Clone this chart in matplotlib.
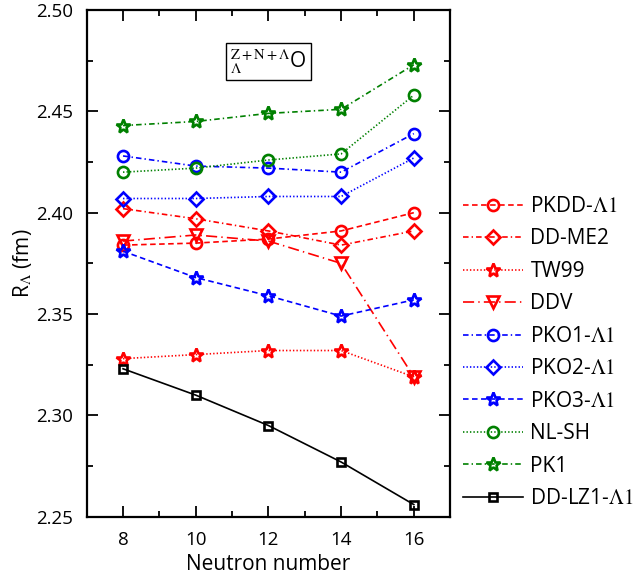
import numpy as np
import matplotlib
matplotlib.use('Agg')
import matplotlib.pyplot as plt
from matplotlib.ticker import MultipleLocator, FormatStrFormatter

plt.rcParams['font.family'] = ['Open Sans', 'DejaVu Sans']
plt.rcParams['mathtext.fontset'] = 'stix'
plt.rcParams['lines.scale_dashes'] = False

# neutron numbers
neutrons = [8, 10, 12, 14, 16]

# R_Lambda (fm) for each interaction
pkdd = [2.384, 2.385, 2.387, 2.391, 2.400]
ddme2 = [2.402, 2.397, 2.391, 2.384, 2.391]
tw99 = [2.328, 2.330, 2.332, 2.332, 2.319]
ddv = [2.386, 2.389, 2.386, 2.375, 2.319]
pko1 = [2.428, 2.423, 2.422, 2.420, 2.439]
pko2 = [2.407, 2.407, 2.408, 2.408, 2.427]
pko3 = [2.381, 2.368, 2.359, 2.349, 2.357]
nlsh = [2.420, 2.422, 2.426, 2.429, 2.458]
pk1 = [2.443, 2.445, 2.449, 2.451, 2.473]
ddlz1 = [2.323, 2.310, 2.295, 2.277, 2.256]

labels = [r'PKDD-$\Lambda\mathrm{1}$', 'DD-ME2', 'TW99', 'DDV',
          r'PKO1-$\Lambda\mathrm{1}$', r'PKO2-$\Lambda\mathrm{1}$',
          r'PKO3-$\Lambda\mathrm{1}$', 'NL-SH', 'PK1',
          r'DD-LZ1-$\Lambda\mathrm{1}$']

green = '#008000'
dashed = (0, (4, 2.5))
dashdot = (0, (4, 2.2, 1, 2.2))
longdashdot = (0, (8, 3, 1, 3))
dotted = (0, (1, 1.5))

# (data, color, linestyle, marker)
series = [
    (pkdd, 'red', dashed, 'o'),
    (ddme2, 'red', dashdot, 'D'),
    (tw99, 'red', dotted, '*'),
    (ddv, 'red', longdashdot, 'v'),
    (pko1, 'blue', dashdot, 'o'),
    (pko2, 'blue', dotted, 'D'),
    (pko3, 'blue', dashed, '*'),
    (nlsh, green, dotted, 'o'),
    (pk1, green, dashdot, '*'),
    (ddlz1, 'black', '-', 's'),
]

fig = plt.figure(figsize=(6.44, 5.78), dpi=100)
ax = fig.add_axes([0.1346, 0.106, 0.5644, 0.8767])

sizes = {'o': 8, 'D': 7.2, '*': 10.5, 's': 5.5, 'v': 8.5}
for (vals, col, ls, mk), lab in zip(series, labels):
    ax.plot(neutrons, vals, color=col, linestyle=ls, lw=1.2, marker=mk,
            markersize=sizes[mk], markerfacecolor='none', markeredgewidth=1.9,
            label=lab)

ax.set_xlim(7, 17)
ax.set_ylim(2.25, 2.50)
ax.xaxis.set_major_locator(MultipleLocator(2))
ax.xaxis.set_minor_locator(MultipleLocator(1))
ax.yaxis.set_major_locator(MultipleLocator(0.05))
ax.yaxis.set_minor_locator(MultipleLocator(0.025))
ax.yaxis.set_major_formatter(FormatStrFormatter('%.2f'))
ax.set_xticks(neutrons)

ax.tick_params(which='both', direction='in', top=True, right=True,
               labelsize=13.5, width=1.3)
ax.tick_params(which='major', length=8)
ax.tick_params(axis='x', which='major', pad=10)
ax.tick_params(axis='y', which='major', pad=10)
ax.tick_params(which='minor', length=4)
for sp in ax.spines.values():
    sp.set_linewidth(1.6)

ax.set_xlabel('Neutron number', fontsize=15, labelpad=4)
ax.set_ylabel(r'R$_\Lambda$ (fm)', fontsize=15, labelpad=1)

ax.text(12, 2.4746, r'$^{\mathrm{Z+N+\Lambda}}_{\Lambda}$O', fontsize=15,
        ha='center', va='center',
        bbox=dict(boxstyle='square,pad=0.2', fc='white', ec='black', lw=1))

fig.legend(loc='center left', bbox_to_anchor=(0.7185, 0.39), frameon=False,
           fontsize=15, handlelength=2.9, handletextpad=0.35,
           labelspacing=0.55, borderpad=0, borderaxespad=0)

fig.savefig('out.png', dpi=100)
